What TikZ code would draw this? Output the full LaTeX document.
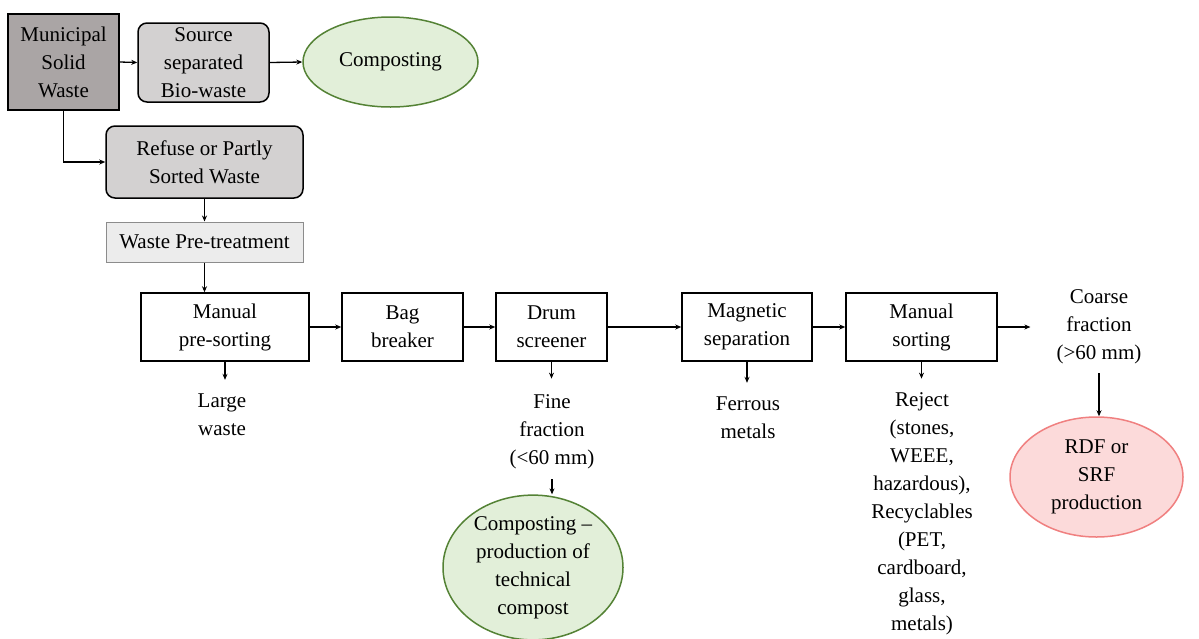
\documentclass[tikz,border=0pt]{standalone}
\usepackage{fontspec}
\setmainfont{LiberationSerif}[Extension=.ttf, UprightFont=*-Regular, BoldFont=*-Bold, ItalicFont=*-Italic, Ligatures=TeX]
\usetikzlibrary{arrows.meta,shapes.geometric}
\definecolor{mswgray}{RGB}{170,165,165}
\definecolor{lgray}{RGB}{211,209,209}
\definecolor{vlgray}{RGB}{236,236,236}
\definecolor{pgray}{RGB}{140,140,140}
\definecolor{lgreen}{RGB}{226,239,217}
\definecolor{cgreen}{RGB}{84,130,53}
\definecolor{lpink}{RGB}{252,218,218}
\definecolor{cred}{RGB}{240,128,128}
\tikzset{
  arr/.style={-{Stealth[length=6pt,width=5pt]}, line width=1.3pt},
  box/.style={draw, line width=1.5pt, align=center, inner sep=0pt},
  oval/.style={ellipse, line width=1.5pt, align=center, inner sep=0pt},
  lbl/.style={align=center, inner sep=0pt},
}
\begin{document}
\begin{tikzpicture}[x=1pt,y=-1pt,font=\rmfamily\fontsize{21}{28}\selectfont]
\useasboundingbox[fill=white] (0,0) rectangle (1199,638);
% top part
\node[box, fill=mswgray, minimum width=111pt, minimum height=96pt] (msw) at (63.5,62) {Municipal\\Solid\\Waste};
\node[box, rounded corners=9pt, fill=lgray, minimum width=131pt, minimum height=79pt] (src) at (203.5,62.5) {Source\\separated\\Bio-waste};
\node[oval, draw=cgreen, fill=lgreen, minimum width=175pt, minimum height=90pt] (comp1) at (390.5,62) {Composting};
\node[box, rounded corners=9pt, fill=lgray, minimum width=197pt, minimum height=72pt] (ref) at (204.5,162) {Refuse or Partly\\Sorted Waste};
\node[box, draw=pgray, line width=1pt, fill=vlgray, minimum width=197pt, minimum height=40pt] (pre) at (204.5,242) {Waste Pre-treatment};
% process row
\node[box, minimum width=168pt, minimum height=68pt] (mps) at (225,327) {Manual\\pre-sorting};
\node[box, minimum width=121pt, minimum height=68pt] (bag) at (402.5,327) {Bag\\breaker};
\node[box, minimum width=111pt, minimum height=68pt] (drum) at (551.5,327) {Drum\\screener};
\node[box, minimum width=130pt, minimum height=68pt] (mag) at (747,327) {Magnetic\\separation};
\node[box, minimum width=151pt, minimum height=68pt] (ms) at (921.5,327) {Manual\\sorting};
\node[lbl] (coarse) at (1099,327) {Coarse\\fraction\\(>60 mm)};
% outputs
\node[lbl] (lw) at (222,415) {Large\\waste};
\node[lbl] (fine) at (552,432) {Fine\\fraction\\(<60 mm)};
\node[lbl] (fe) at (748,418) {Ferrous\\metals};
\node[lbl] (rej) at (922,514) {Reject\\(stones,\\WEEE,\\hazardous),\\Recyclables\\(PET,\\cardboard,\\glass,\\metals)};
\node[oval, draw=cgreen, fill=lgreen, minimum width=180pt, minimum height=125pt] (comp2) at (533,567.5) {Composting --\\production of\\technical\\compost};
\node[oval, draw=cred, fill=lpink, minimum width=173pt, minimum height=120pt] (rdf) at (1096.5,477) {RDF or\\SRF\\production};
% connectors
\draw[arr] (msw.east) -- (src.west);
\draw[arr] (src.east) -- (comp1.west);
\draw[arr] (msw.south) |- (ref.west);
\draw[arr] (ref.south) -- (pre.north);
\draw[arr] (pre.south) -- (pre.south |- mps.north);
\draw[arr] (mps.east) -- (bag.west);
\draw[arr] (bag.east) -- (drum.west);
\draw[arr] (drum.east) -- (mag.west);
\draw[arr] (mag.east) -- (ms.west);
\draw[arr, shorten >=26pt] (ms.east) -- (ms.east -| coarse.west);
\draw[arr, shorten >=14pt] (mps.south) -- (mps.south |- lw.north);
\draw[arr, shorten >=16pt] (drum.south) -- (drum.south |- fine.north);
\draw[arr, shorten <=10pt] (fine.south) -- (fine.south |- comp2.north);
\draw[arr, shorten >=14pt] (mag.south) -- (mag.south |- fe.north);
\draw[arr, shorten >=14pt] (ms.south) -- (ms.south |- rej.north);
\draw[arr, shorten <=9pt] (coarse.south) -- (coarse.south |- rdf.north);
\end{tikzpicture}
\end{document}
